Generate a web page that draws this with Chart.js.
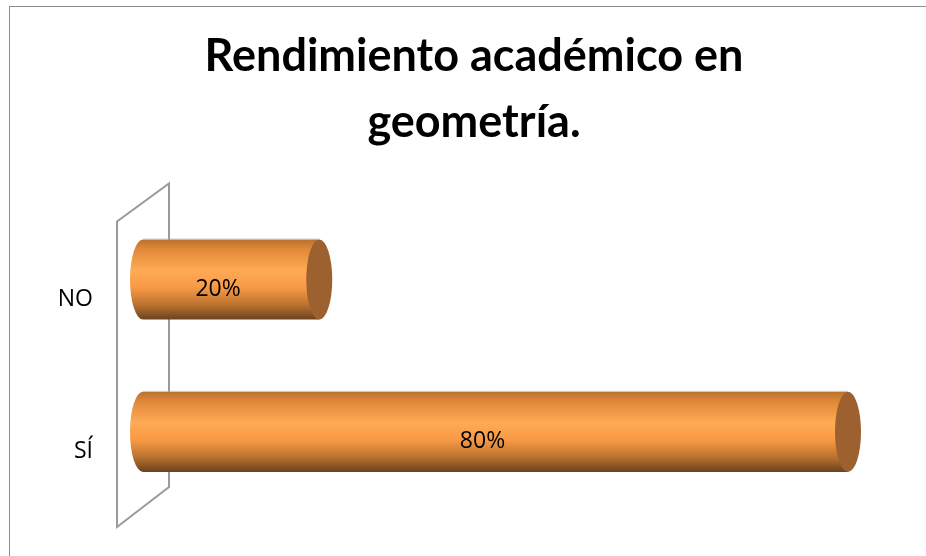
<!DOCTYPE html>
<html>
<head>
<meta charset="utf-8">
<script src="https://cdn.jsdelivr.net/npm/chart.js@4.4.1/dist/chart.umd.min.js"></script>
<style>
  html, body { margin: 0; padding: 0; background: #fff; }
  body { width: 926px; height: 556px; overflow: hidden; position: relative; }
  #frame { position: absolute; left: 9px; top: 6px; width: 1000px; height: 700px; border: 1px solid #8c8c8c; box-sizing: border-box; }
  #chart { position: absolute; left: 0; top: 0; }
</style>
</head>
<body>
<div id="frame"></div>
<canvas id="chart" width="926" height="556"></canvas>
<script>
// ===== Data =====
const categories = ['NO', 'SÍ'];
const percentages = [20, 80];
const titleLines = ['Rendimiento académico en', 'geometría.'];

// ===== 3D look (cylinder bars + back wall) =====
const cylinderPlugin = {
  id: 'cylinders',
  beforeDatasetsDraw(chart) {
    const { ctx, chartArea: a } = chart;
    // back wall, slanted panel behind the bars
    ctx.save();
    ctx.strokeStyle = '#9a9a9a';
    ctx.lineWidth = 2;
    ctx.beginPath();
    ctx.moveTo(a.left - 26, a.bottom + 19);
    ctx.lineTo(a.left - 26, a.top + 18);
    ctx.lineTo(a.left + 26, a.top - 20);
    ctx.lineTo(a.left + 26, a.bottom - 21);
    ctx.closePath();
    ctx.stroke();
    ctx.restore();
  },
  afterDatasetsDraw(chart) {
    const { ctx } = chart;
    const meta = chart.getDatasetMeta(0);
    meta.data.forEach((bar, i) => {
      const h = bar.height;
      const top = bar.y - h / 2, bottom = bar.y + h / 2;
      const x0 = bar.base, x1 = bar.x;
      const rx = 13, ry = h / 2;

      const g = ctx.createLinearGradient(0, top, 0, bottom);
      g.addColorStop(0, '#b8722f');
      g.addColorStop(0.12, '#e08838');
      g.addColorStop(0.38, '#ffaa55');
      g.addColorStop(0.6, '#f89a45');
      g.addColorStop(0.82, '#b9712f');
      g.addColorStop(1, '#6a4220');

      ctx.save();
      ctx.beginPath();
      ctx.moveTo(x1, top);
      ctx.lineTo(x0, top);
      ctx.ellipse(x0, bar.y, rx, ry, 0, -Math.PI / 2, Math.PI / 2, true);
      ctx.lineTo(x1, bottom);
      ctx.closePath();
      ctx.fillStyle = g;
      ctx.fill();
      ctx.strokeStyle = 'rgba(190,180,170,0.6)';
      ctx.lineWidth = 1;
      ctx.beginPath();
      ctx.moveTo(x0, top - 0.5);
      ctx.lineTo(x1, top - 0.5);
      ctx.stroke();

      // end cap
      ctx.beginPath();
      ctx.ellipse(x1, bar.y, rx, ry, 0, 0, Math.PI * 2);
      ctx.fillStyle = '#9d6130';
      ctx.fill();

      // value label
      ctx.fillStyle = '#000';
      ctx.font = '23px "Open Sans", sans-serif';
      ctx.textAlign = 'center';
      ctx.textBaseline = 'middle';
      ctx.fillText(percentages[i] + '%', (x0 + x1) / 2 - 13, bar.y + 10);
      ctx.restore();
    });
  }
};

new Chart(document.getElementById('chart'), {
  type: 'bar',
  data: {
    labels: categories,
    datasets: [{
      data: percentages,
      backgroundColor: 'rgba(0,0,0,0)',
      borderWidth: 0,
      categoryPercentage: 1,
      barPercentage: 0.526
    }]
  },
  plugins: [cylinderPlugin],
  options: {
    indexAxis: 'y',
    responsive: false,
    animation: false,
    devicePixelRatio: 1,
    layout: { padding: { left: 50, right: 28, top: 0, bottom: 48 } },
    plugins: {
      legend: { display: false },
      tooltip: { enabled: false },
      title: {
        display: true,
        text: titleLines,
        color: '#000',
        font: { family: 'Lato', weight: 'bold', size: 45, lineHeight: 1.46 },
        padding: { top: 24, bottom: 48 }
      }
    },
    scales: {
      x: { display: false, min: 0, max: 80 },
      y: {
        grid: { display: false, drawTicks: false },
        border: { display: false },
        ticks: {
          color: '#000',
          font: { family: 'Open Sans', size: 23 },
          padding: 50,
          labelOffset: 20
        },
        afterFit: s => { s.width = 93; s.paddingTop = 0; s.paddingBottom = 0; }
      },
      // empty space on the right (keeps the title centred like the original)
      yRight: {
        position: 'right',
        grid: { display: false, drawTicks: false },
        border: { display: false },
        ticks: { display: false },
        afterFit: s => { s.width = 50; s.paddingTop = 0; s.paddingBottom = 0; }
      }
    }
  }
});
</script>
</body>
</html>
